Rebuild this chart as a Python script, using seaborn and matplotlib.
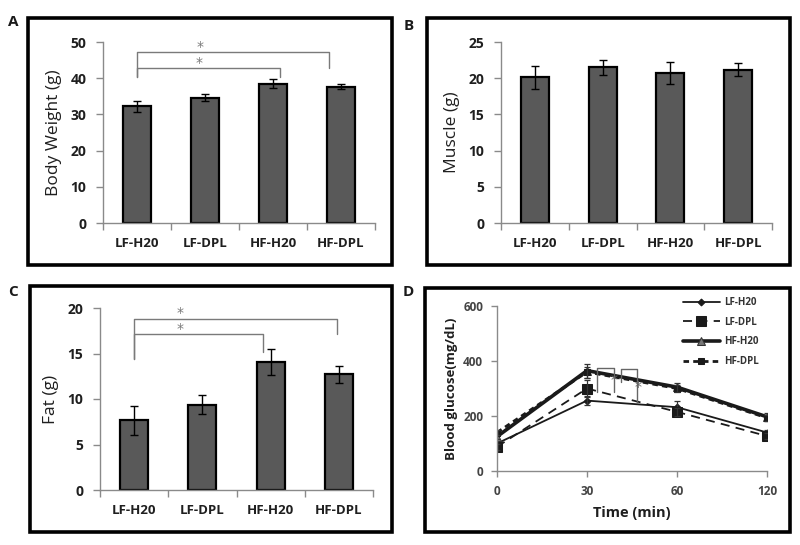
import numpy as np
import pandas as pd
import matplotlib
matplotlib.use("Agg")
import matplotlib.pyplot as plt
import seaborn as sns
from matplotlib.patches import Rectangle

# ---------------- data ----------------
groups = ["LF-H20", "LF-DPL", "HF-H20", "HF-DPL"]
body_weight = [32.2, 34.6, 38.5, 37.6]
body_weight_err = [1.5, 0.9, 1.2, 0.7]
muscle = [20.1, 21.5, 20.7, 21.2]
muscle_err = [1.6, 1.05, 1.5, 0.9]
fat = [7.65, 9.35, 14.05, 12.7]
fat_err = [1.6, 1.05, 1.4, 0.95]

time_labels = ["0", "30", "60", "120"]
glucose_lf_h20 = [100, 256, 232, 140]
glucose_lf_dpl = [88, 300, 215, 127]
glucose_hf_h20 = [125, 365, 305, 197]
glucose_hf_dpl = [140, 360, 300, 193]
glucose_lf_h20_err = [10, 15, 22, 10]
glucose_lf_dpl_err = [10, 30, 15, 10]
glucose_hf_h20_err = [10, 25, 15, 15]
glucose_hf_dpl_err = [10, 20, 12, 12]

# ---------------- style ----------------
sns.set_theme(style="white")
plt.rcParams["font.family"] = ["Open Sans", "DejaVu Sans"]

W, H = 800, 545
fig = plt.figure(figsize=(8, 5.45), dpi=100)
fig.patch.set_facecolor("white")

SPINE = "#8a8a8a"
TXT = "#1f1f1f"


def rect_px(l, t, r, b):
    return [l / W, 1 - b / H, (r - l) / W, (b - t) / H]


def frame(l, t, r, b):
    fig.add_artist(Rectangle((l / W, 1 - b / H), (r - l) / W, (b - t) / H,
                             transform=fig.transFigure, fill=False,
                             edgecolor="black", linewidth=2.6))


def style_axes(ax):
    for s in ["top", "right"]:
        ax.spines[s].set_visible(False)
    for s in ["left", "bottom"]:
        ax.spines[s].set_color(SPINE)
        ax.spines[s].set_linewidth(1.0)


def bar_panel(rect, vals, errs, ymax, ystep, ylabel):
    ax = fig.add_axes(rect)
    df = pd.DataFrame({"group": groups, "value": vals})
    sns.barplot(data=df, x="group", y="value", ax=ax, color="#595959",
                saturation=1, width=0.41, edgecolor="black", linewidth=1.6,
                errorbar=None)
    ax.errorbar(np.arange(len(groups)), vals, yerr=errs, fmt="none",
                ecolor="black", elinewidth=1.0, capsize=3, capthick=1.0,
                zorder=5)
    ax.set_xlim(-0.5, len(groups) - 0.5)
    ax.set_ylim(0, ymax)
    ax.set_yticks(np.arange(0, ymax + 0.01, ystep))
    ax.set_xticks(np.arange(len(groups)))
    ax.set_xticklabels(groups, fontsize=9.5, fontweight="bold", color=TXT)
    ax.set_xticks(np.arange(-0.5, len(groups)), minor=True)
    ax.tick_params(axis="x", which="major", length=0, pad=10)
    ax.tick_params(axis="x", which="minor", length=5, width=1, color=SPINE,
                   direction="out", bottom=True)
    ax.tick_params(axis="y", which="major", length=5, width=1, color=SPINE,
                   direction="out", left=True, pad=7)
    for lab in ax.get_yticklabels():
        lab.set_fontweight("bold")
        lab.set_fontsize(10)
        lab.set_color(TXT)
    ax.set_xlabel("")
    ax.set_ylabel(ylabel, fontsize=12.5, color=TXT, labelpad=6)
    style_axes(ax)
    return ax


def sig_bracket(ax, x0, x1, y, yl0, yl1, star_x, star_y, color="#7a7a7a"):
    ax.plot([x0, x0, x1, x1], [yl0, y, y, yl1], color=color, lw=1.0,
            clip_on=False, zorder=6)
    ax.text(star_x, star_y, "*", ha="center", va="center", color=color,
            fontsize=10, family="DejaVu Sans", clip_on=False)


# ---------------- panel frames and letters ----------------
frame(28, 18, 392, 265)
frame(427, 18, 790, 265)
frame(30, 286, 392, 532)
frame(425, 288, 790, 532)
for letter, x, y in [("A", 8, 22), ("B", 404, 26), ("C", 8, 292), ("D", 403, 292)]:
    fig.text(x / W, 1 - y / H, letter, fontsize=11, fontweight="bold",
             ha="left", va="center", color="#1a1a1a")

# ---------------- A ----------------
axA = bar_panel(rect_px(103, 42, 375, 223), body_weight, body_weight_err,
                50, 10, "Body Weight (g)")
sig_bracket(axA, 0, 2.82, 47.2, 40.4, 42.7, 0.93, 48.6)
sig_bracket(axA, 0, 2.1, 42.9, 40.4, 40.4, 0.91, 44.3)

# ---------------- B ----------------
axB = bar_panel(rect_px(501, 42, 772, 223), muscle, muscle_err,
                25, 5, "Muscle (g)")

# ---------------- C ----------------
axC = bar_panel(rect_px(100, 308, 373, 490), fat, fat_err,
                20, 5, "Fat (g)")
sig_bracket(axC, 0, 2.97, 18.8, 14.4, 17.1, 0.67, 19.4)
sig_bracket(axC, 0, 1.89, 17.1, 14.4, 15.2, 0.67, 17.7)

# ---------------- D ----------------
axD = fig.add_axes(rect_px(497, 306, 767, 471))
xpos = np.arange(len(time_labels))
series = [
    ("LF-H20", glucose_lf_h20, glucose_lf_h20_err,
     dict(color="#1a1a1a", lw=1.3, ls="-", marker="D", ms=3.5)),
    ("LF-DPL", glucose_lf_dpl, glucose_lf_dpl_err,
     dict(color="#1a1a1a", lw=1.3, ls=(0, (5, 3.5)), marker="s", ms=7)),
    ("HF-H20", glucose_hf_h20, glucose_hf_h20_err,
     dict(color="#1a1a1a", lw=2.6, ls="-", marker="^", ms=6,
          mfc="#777777", mec="#333333")),
    ("HF-DPL", glucose_hf_dpl, glucose_hf_dpl_err,
     dict(color="#1a1a1a", lw=2.0, ls=(0, (2, 1.5)), marker="s", ms=5)),
]
for name, vals, errs, kw in series:
    df = pd.DataFrame({"t": xpos, "g": vals})
    sns.lineplot(data=df, x="t", y="g", ax=axD, label=name,
                 color=kw["color"], linewidth=kw["lw"], linestyle=kw["ls"],
                 marker=kw["marker"], markersize=kw["ms"],
                 markerfacecolor=kw.get("mfc", kw["color"]),
                 markeredgecolor=kw.get("mec", kw["color"]))
    axD.errorbar(xpos, vals, yerr=errs, fmt="none", ecolor="#333333",
                 elinewidth=0.9, capsize=2.5, capthick=0.9)

axD.set_xlim(0, 3)
axD.set_ylim(0, 600)
axD.set_yticks([0, 200, 400, 600])
axD.set_xticks(xpos)
axD.set_xticklabels(time_labels)
axD.tick_params(axis="both", which="major", length=4, width=1, color=SPINE,
                direction="out", left=True, bottom=True, labelsize=8.5,
                labelcolor="#444444", pad=6)
for lab in axD.get_xticklabels() + axD.get_yticklabels():
    lab.set_fontweight("bold")
axD.set_xlabel("Time (min)", fontsize=10.5, fontweight="bold", color=TXT,
               labelpad=6)
axD.set_ylabel("Blood glucose(mg/dL)", fontsize=9.5, fontweight="bold",
               color=TXT, labelpad=4)
style_axes(axD)

# significance brackets in D
sig_bracket(axD, 1.107, 1.296, 373, 288, 288, 1.30, 331, color="#666666")
sig_bracket(axD, 1.374, 1.559, 370, 325, 246, 1.565, 307, color="#666666")

leg = axD.legend(loc="upper left", bbox_to_anchor=(683 / W, 1 - 297 / H),
                 bbox_transform=fig.transFigure, frameon=False,
                 fontsize=7, handlelength=3.8, handletextpad=0.4,
                 labelspacing=0.9, borderpad=0, borderaxespad=0)
for t in leg.get_texts():
    t.set_fontweight("bold")
    t.set_color("#333333")

fig.savefig("out.png", dpi=100, facecolor="white")
